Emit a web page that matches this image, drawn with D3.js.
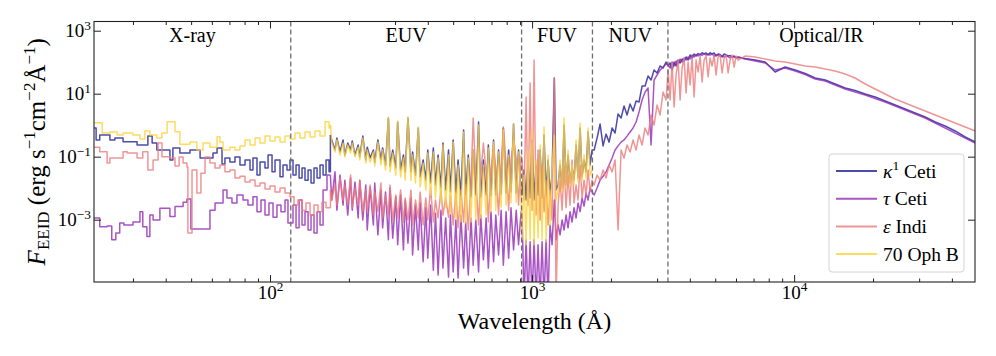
<!DOCTYPE html>
<html><head><meta charset="utf-8">
<script src="https://cdn.jsdelivr.net/npm/d3@7"></script>
<style>
body{margin:0;background:#fff}
svg{display:block}
svg text, svg tspan{font-family:"Liberation Serif","DejaVu Serif",serif !important}
</style></head>
<body><svg id="chart" width="996" height="356"></svg>
<script>
// ---------------- data (wavelength in Å, flux in erg s^-1 cm^-2 Å^-1) ----------------
const regionEdges = [21.3, 120, 912, 1700, 3300, 49000];
const regionLabels = ["X-ray", "EUV", "FUV", "NUV", "Optical/IR"];
const xTickValues = [1e2, 1e3, 1e4];
const xTickExponents = ["2", "3", "4"];
const yTickValues = [1e-3, 1e-1, 1e1, 1e3];
const yTickExponents = ["\u22123", "\u22121", "1", "3"];
const starNames = ["κ1 Ceti", "τ Ceti", "ε Indi", "70 Oph B"];
const starColors = ["#1f1f96", "#9328b5", "#ec7a7a", "#fdd23a"];

// X-ray histograms (bin start wavelengths, bin fluxes)
const kappaXrayWave = [21.3,21.7,22.4,24.5,25.6,27.5,31.1,34.2,35.5,37.0,41.5,42.6,45.3,49.5,54.1,60.6,62.8,65.6,67.3,70.3,73.5,76.8,80.3,83.9,86.1,89.2,91.6,95.7,98.3,101.8,104.5,109.2,112.1,116.1,119.2,122.4,125.7,129.1,132.5,136.0,139.7,143.4,147.2,151.2,155.2,159.4,163.6,168];
const kappaXrayFlux = [0.815,0.34,0.49,0.34,0.39,0.30,0.235,0.45,0.27,0.163,0.079,0.19,0.131,0.163,0.091,0.131,0.19,0.059,0.091,0.068,0.098,0.0545,0.079,0.038,0.091,0.026,0.068,0.044,0.113,0.033,0.079,0.023,0.0545,0.038,0.079,0.026,0.0545,0.021,0.044,0.018,0.038,0.0146,0.044,0.021,0.0545,0.026,0.079,0.033];
const tauXrayWave = [21.3,22.4,23.9,24.9,25.8,26.7,27.7,30.0,31.9,32.7,33.9,34.8,35.8,38.0,41.5,43.4,46.6,48.2,49.9,59.0,61.7,66.2,68.5,71.6,74.8,78.9,82.4,86.1,89.2,92.4,95.7,99.1,102.7,106.3,110.1,114.1,117.1,122.4,125.7,129.1,132.5,136.0,139.7,143.4,147.2,151.2,155.2,159.4,165.0];
const tauXrayFlux = [0.00113,0.0006,0.00063,0.00023,0.00038,0.00079,0.00068,0.00084,0.0018,0.0006,0.00029,0.0014,0.00098,0.0023,0.00125,0.0026,0.0036,0.0045,0.00051,0.002,0.0034,0.0088,0.0049,0.0034,0.0061,0.0042,0.0029,0.0053,0.0018,0.0042,0.0014,0.0034,0.0012,0.0029,0.0018,0.0042,0.00079,0.0029,0.00055,0.0042,0.00068,0.0018,0.00047,0.0014,0.00038,0.0018,0.00068,0.0088,0.026];
const epsXrayWave = [21.3,22.4,23.9,24.5,27.5,28.5,31.1,32.7,34.2,35.8,37.4,38.7,41.5,43.4,45.0,46.6,48.2,48.6,50.4,52.6,54.5,56.5,59.0,61.7,64.4,67.3,70.3,73.5,76.8,80.3,83.9,87.7,91.6,95.7,100,104.5,109.2,114.1,119.2,123.5,127.9,132.5,137.2,142.2,147.2,152.5,157.9,163.6];
const epsXrayFlux = [0.20,0.144,0.063,0.091,0.144,0.131,0.091,0.144,0.038,0.079,0.27,0.1,0.091,0.051,0.098,0.063,0.047,0.00038,0.038,0.007,0.03,0.098,0.063,0.044,0.0545,0.033,0.038,0.021,0.024,0.0157,0.0182,0.0117,0.0146,0.0094,0.0117,0.0076,0.0101,0.007,0.0053,0.0029,0.0042,0.002,0.0034,0.0014,0.0029,0.0018,0.0036,0.0024];
const ophXrayWave = [21.3,22.9,24.5,26.1,27.5,30.0,31.9,33.3,34.8,37.0,38.7,40.5,43.4,45.3,49.5,52.6,55.5,59.0,62.8,64.4,66.2,70.3,73.5,76.8,80.3,83.9,87.7,91.6,95.7,100,104.5,109.2,114.1,119.2,124.6,130.2,136.0,142.2,148.5,155.2,162.2,168];
const ophXrayFlux = [1.2,0.565,0.61,0.49,0.57,0.49,0.365,0.65,0.49,0.39,0.565,1.29,0.62,0.25,0.29,0.163,0.27,0.20,0.43,0.29,0.163,0.20,0.163,0.22,0.34,0.235,0.39,0.27,0.45,0.315,0.42,0.29,0.45,0.365,0.565,0.39,0.61,0.42,0.65,0.45,1.29,0.815];

// EUV model spectra (shared wavelength grid)
const euvWave = [170,172,177,180,185,190,193,198,203,206,211,217,220,226,232,235,241,248,251,258,265,269,276,283,287,294,302,307,315,323,328,336,345,350,359,368,374,384,393,400,410,420,428,438,449,457,468,480,488,500,512,522,535,548,558,571,585,596,610,625,637,652,668,681,697,713,727,745,762,777,796,814,831,850,870,888,908];
const kappaEuvFlux = [0.49,0.34,0.163,0.39,0.141,0.34,0.113,0.27,0.163,0.315,0.113,0.235,0.098,0.45,0.079,0.20,0.091,0.163,0.068,0.34,0.079,0.19,0.0545,1.69,0.051,0.163,0.044,1.26,0.038,0.113,0.033,1.69,0.033,0.141,0.026,0.815,0.0227,0.079,0.018,0.163,0.0146,0.19,0.0126,0.113,0.0101,0.27,0.0088,0.163,0.0076,0.34,0.007,0.079,0.0061,0.70,0.0061,0.113,0.0053,0.163,0.0061,1.26,0.0053,0.079,0.0061,0.235,0.0057,0.34,0.0061,0.163,0.0065,0.815,0.007,0.163,0.0076,1.09,0.007,0.163,0.0061];
const tauEuvFlux = [0.026,0.0042,0.033,0.002,0.026,0.0029,0.018,0.0014,0.021,0.002,0.0157,0.00113,0.018,0.00098,0.0126,0.00047,0.0109,0.00068,0.0146,0.00033,0.0088,0.00055,0.0076,0.00023,0.0101,0.00026,0.0053,0.00016,0.0061,0.00011,0.0042,0.00018,0.0049,0.000076,0.0029,0.00011,0.0034,0.000046,0.0024,0.00006,0.0029,0.000025,0.0016,0.0000175,0.002,0.000029,0.00113,0.000015,0.0014,0.000022,0.00098,0.000014,0.0014,0.000029,0.00084,0.0000175,0.00113,0.000036,0.00098,0.000022,0.0014,0.000053,0.00113,0.000029,0.0018,0.000046,0.0014,0.000076,0.002,0.000036,0.0018,0.00006,0.0024,0.00011,0.002,0.00016,0.0018];
const epsEuvFlux = [0.0088,0.0042,0.0126,0.0029,0.021,0.0042,0.0126,0.0029,0.026,0.0024,0.0101,0.0029,0.018,0.0018,0.0088,0.002,0.0126,0.0014,0.0076,0.0018,0.0146,0.00113,0.0061,0.0014,0.0126,0.00098,0.0061,0.00113,0.0088,0.00084,0.0049,0.00098,0.0088,0.00068,0.0042,0.00113,0.0076,0.00068,0.0049,0.00098,0.0101,0.00084,0.0042,0.00113,0.0088,0.0014,0.0049,0.0012,0.0061,0.00068,0.0076,0.00055,0.0088,0.00084,0.0126,0.00047,0.018,1.69,0.021,0.00068,0.026,0.27,0.033,0.00084,0.038,0.235,0.044,0.0014,0.0545,0.88,0.063,0.002,0.079,0.34,0.091,0.0029,0.105];
const ophEuvFlux = [1.01,0.29,0.141,0.34,0.113,0.27,0.098,0.235,0.131,0.27,0.098,0.20,0.079,0.39,0.063,0.163,0.068,0.141,0.051,0.29,0.0545,0.163,0.038,1.82,0.033,0.131,0.026,1.36,0.0227,0.091,0.018,1.82,0.018,0.113,0.0146,0.88,0.0109,0.063,0.0088,0.131,0.0061,0.141,0.0049,0.091,0.0034,0.235,0.0024,0.113,0.0016,0.29,0.00113,0.0545,0.00084,0.61,0.00079,0.091,0.00084,0.163,0.00098,1.01,0.00113,0.0545,0.0014,0.19,0.0018,0.29,0.002,0.141,0.0025,0.70,0.0029,0.113,0.0034,1.09,0.0036,0.141,0.0042];

// FUV spectra (shared wavelength grid)
const fuvWave = [916,932,949,965,983,1000,1018,1036,1054,1073,1092,1111,1131,1151,1171,1192,1216,1235,1257,1279,1302,1325,1348,1372,1396,1421,1446,1472,1498,1525,1552,1579,1607,1636,1665,1694];
const kappaFuvFlux = [0.0061,0.038,0.0042,0.079,0.0049,0.34,0.0042,0.0545,0.0061,0.163,0.0049,0.49,0.0057,0.079,0.0065,0.026,31.5,0.0088,0.0126,0.0545,0.0101,1.01,0.0126,0.113,0.0146,0.044,0.018,0.235,0.021,0.815,0.024,0.079,0.033,0.61,0.0545,0.163];
const tauFuvFlux = [0.0014,2.8e-6,0.00023,2.8e-6,0.0002,2.8e-6,0.00023,2.8e-6,0.00016,2.8e-6,0.0002,2.8e-6,0.00023,2.8e-6,0.00068,0.00016,0.0042,0.00023,0.00068,0.00033,0.00098,0.00047,0.0014,0.00055,0.0018,0.00084,0.0024,0.00113,0.0034,0.0018,0.0049,0.0027,0.007,0.0042,0.0101,0.0076];
const epsFuvFlux = [0.079,0.0042,7.86,0.0029,21.9,0.002,117,0.0014,0.163,0.00098,0.0545,0.0018,0.018,0.00068,0.0088,0.00098,31.5,2.8e-6,0.0029,0.018,0.002,0.0545,0.0024,0.026,0.0029,0.079,0.0034,0.0126,0.0042,0.0545,0.0049,0.018,0.0061,0.038,0.0076,0.018];
const ophFuvFlux = [0.00023,0.026,0.00016,0.163,0.00023,0.70,0.00016,0.079,0.00026,0.235,0.00023,0.88,0.0002,0.113,0.00068,0.038,0.49,0.0042,0.0088,0.079,0.0076,1.69,0.0101,0.163,0.0117,0.0545,0.0126,0.34,0.0157,1.17,0.018,0.113,0.021,0.815,0.026,0.038];

// NUV + optical/IR spectra (shared wavelength grid; 70 Oph B has none)
const redWave = [1725,1770,1818,1866,1916,1968,2020,2074,2129,2186,2244,2304,2366,2429,2494,2560,2629,2699,2771,2845,2921,2999,3079,3162,3246,
  3304,3363,3423,3483,3545,3608,3672,3736,3803,3870,3939,4009,4080,4152,4227,4301,4378,4455,4535,4614,4697,4779,4864,4950,5038,5127,5219,5311,5406,5501,5599,5697,5799,5902,6007,6113,
  6501,7099,7752,8465,9242,10090,11020,12030,13140,14340,15660,17090,18670,20380,22250,24300,26530,28960,31620,34530,37700,41160,44950,49080];
const kappaRedFlux = [0.163,0.39,1.09,0.22,0.52,0.29,0.815,0.565,2.27,1.69,4.07,2.1,4.71,2.83,5.87,5.45,17.5,17.5,36.5,27.2,56.5,45.4,75.8,65.4,101,
  75.8,94.4,56.5,101,75.8,117,94.4,126,109,146,117,169,136,182,157,189,169,200,182,196,169,200,182,196,157,182,176,146,182,169,157,163,146,157,141,146,
  131,117,101,48.8,70.4,56.5,43.8,31.5,27.2,20.3,15.2,12.6,9.8,7.86,5.87,4.38,3.27,2.44,1.82,1.26,0.944,0.655,0.422,0.293];
const tauRedFlux = [0.0061,0.0101,0.018,0.024,0.033,0.0545,0.091,0.163,0.22,0.29,0.34,0.45,0.61,0.815,1.26,2.62,6.3,11.3,15.2,0.235,27.2,39.2,56.5,70.4,87.7,
  81.5,65.4,101,75.8,109,87.7,126,101,136,117,146,126,169,146,176,157,182,163,189,169,182,169,182,157,169,169,157,163,146,157,151,136,151,146,136,141,
  126,109,94.4,56.5,65.4,52.6,40.7,29.3,25.3,18.9,14.1,11.3,9.1,7.04,5.45,4.07,3.04,2.27,1.69,1.17,0.815,0.565,0.39,0.27];
const epsRedFlux = [0.0126,0.026,0.018,0.038,0.021,0.0545,0.033,0.079,0.00047,0.163,0.091,0.235,0.141,0.34,0.163,0.49,0.235,0.815,0.49,2.1,1.01,4.38,2.1,11.3,6.3,
  56.5,6.3,101,3.78,39.2,117,6.3,65.4,136,10.5,101,18.9,146,7.86,117,48.8,157,23.5,117,157,33.9,136,75.8,169,39.2,146,169,45.4,136,169,45.4,117,169,70.4,157,117,
  157,146,126,109,101,87.7,75.8,70.4,60.8,52.6,42.2,31.5,20.3,14.1,9.8,6.8,5.07,3.78,2.82,2.1,1.57,1.17,0.877,0.655];

// ---------------- chart ----------------
const FONT = "'Liberation Serif','DejaVu Serif',serif";
const stars = [
  {xw: kappaXrayWave, xf: kappaXrayFlux, euv: kappaEuvFlux, fuv: kappaFuvFlux, red: kappaRedFlux},
  {xw: tauXrayWave, xf: tauXrayFlux, euv: tauEuvFlux, fuv: tauFuvFlux, red: tauRedFlux},
  {xw: epsXrayWave, xf: epsXrayFlux, euv: epsEuvFlux, fuv: epsFuvFlux, red: epsRedFlux},
  {xw: ophXrayWave, xf: ophXrayFlux, euv: ophEuvFlux, fuv: ophFuvFlux, red: null}
].map((s, i) => Object.assign(s, {name: starNames[i], color: starColors[i]}));

const L = 94, R = 975, T = 21.5, B = 282;
const svg = d3.select("#chart");
const x = d3.scaleLog().domain([regionEdges[0], regionEdges[regionEdges.length - 1]]).range([L, R]);
const y = d3.scaleLog().domain([1.05e-5, 1960]).range([B, T]);

svg.append("defs").append("clipPath").attr("id", "clip")
  .append("rect").attr("x", L).attr("y", T).attr("width", R - L).attr("height", B - T);
const plot = svg.append("g").attr("clip-path", "url(#clip)");

const stepLine = d3.line().x(d => x(d[0])).y(d => y(d[1])).curve(d3.curveStepAfter);
const specLine = d3.line().x(d => x(d[0])).y(d => y(d[1]));

stars.forEach(s => {
  const spec = euvWave.map((w, i) => [w, s.euv[i]]).concat(fuvWave.map((w, i) => [w, s.fuv[i]]));
  if (s.red) redWave.forEach((w, i) => spec.push([w, s.red[i]]));
  const xr = s.xw.map((w, i) => [w, s.xf[i]]);
  xr.push(spec[0]);
  const g = plot.append("g").attr("fill", "none").attr("stroke", s.color)
    .attr("stroke-opacity", 0.8).attr("stroke-width", 1.5).attr("stroke-linejoin", "round");
  g.append("path").attr("d", stepLine(xr));
  g.append("path").attr("d", specLine(spec));
});

// region dividers and labels
const inner = regionEdges.slice(1, -1);
svg.append("g").selectAll("line").data(inner).join("line")
  .attr("x1", d => x(d)).attr("x2", d => x(d)).attr("y1", T).attr("y2", B)
  .attr("stroke", "#6e6e6e").attr("stroke-width", 1.3).attr("stroke-dasharray", "5,3");
svg.append("g").selectAll("text").data(regionLabels).join("text")
  .attr("x", (d, i) => x(Math.sqrt(regionEdges[i] * regionEdges[i + 1])))
  .attr("y", 42).attr("text-anchor", "middle").attr("font-size", 20).attr("font-family", FONT).text(d => d);

// axes
function styleAxis(g) {
  g.select(".domain").remove();
  g.selectAll(".tick line").attr("stroke", "#222").attr("stroke-width", 1);
  g.attr("font-family", FONT).attr("font-size", 19);
}
function addPow(sel, exps) {
  sel.selectAll(".tick text").each(function(d, i) {
    const t = d3.select(this).text(null).attr("fill", "#000").attr("font-family", FONT);
    t.append("tspan").text("10");
    t.append("tspan").attr("font-size", "0.7em").attr("dy", "-0.55em").text(exps[i]);
  });
}
const xMinor = [];
for (let k = 1; k <= 4; k++) for (let m = 2; m <= 9; m++) {
  const v = m * Math.pow(10, k);
  if (v > x.domain()[0] && v < x.domain()[1]) xMinor.push(v);
}
const gxb = svg.append("g").attr("transform", `translate(0,${B})`)
  .call(d3.axisBottom(x).tickValues(xTickValues).tickSize(-7).tickPadding(3).tickFormat(() => ""))
  .call(styleAxis);
addPow(gxb, xTickExponents);
svg.append("g").attr("transform", `translate(0,${B})`)
  .call(d3.axisBottom(x).tickValues(xMinor).tickSize(-3.5).tickFormat(() => "")).call(styleAxis);
svg.append("g").attr("transform", `translate(0,${T})`)
  .call(d3.axisTop(x).tickValues(xTickValues).tickSize(-7).tickFormat(() => "")).call(styleAxis);
svg.append("g").attr("transform", `translate(0,${T})`)
  .call(d3.axisTop(x).tickValues(xMinor).tickSize(-3.5).tickFormat(() => "")).call(styleAxis);
const gyl = svg.append("g").attr("transform", `translate(${L},0)`)
  .call(d3.axisLeft(y).tickValues(yTickValues).tickSize(-7).tickPadding(3).tickFormat(() => ""))
  .call(styleAxis);
addPow(gyl, yTickExponents);
svg.append("g").attr("transform", `translate(${R},0)`)
  .call(d3.axisRight(y).tickValues(yTickValues).tickSize(-7).tickFormat(() => "")).call(styleAxis);

svg.append("rect").attr("x", L).attr("y", T).attr("width", R - L).attr("height", B - T)
  .attr("fill", "none").attr("stroke", "#222").attr("stroke-width", 1.1);

// axis labels
svg.append("text").attr("x", (L + R) / 2).attr("y", 329).attr("text-anchor", "middle")
  .attr("font-size", 24).attr("font-family", FONT).text("Wavelength (Å)");
const yl = svg.append("text").attr("transform", `translate(45,${(T + B) / 2}) rotate(-90)`)
  .attr("text-anchor", "middle").attr("font-size", 25).attr("font-family", FONT);
yl.append("tspan").attr("font-style", "italic").text("F");
yl.append("tspan").attr("font-size", 17).attr("dy", 4).text("EEID");
yl.append("tspan").attr("dy", -4).text(" (erg s");
yl.append("tspan").attr("font-size", 17).attr("dy", -10).text("\u22121");
yl.append("tspan").attr("dy", 10).text("cm");
yl.append("tspan").attr("font-size", 17).attr("dy", -10).text("\u22122");
yl.append("tspan").attr("dy", 10).text("Å");
yl.append("tspan").attr("font-size", 17).attr("dy", -10).text("\u22121");
yl.append("tspan").attr("dy", 10).text(")");

// legend
const lg = svg.append("g").attr("font-family", FONT);
lg.append("rect").attr("x", 829).attr("y", 154).attr("width", 135).attr("height", 118).attr("rx", 3)
  .attr("fill", "#fff").attr("fill-opacity", 0.8).attr("stroke", "#d4d4d4");
stars.forEach((s, i) => {
  const yy = 171 + i * 27.7;
  lg.append("line").attr("x1", 836).attr("x2", 877).attr("y1", yy).attr("y2", yy)
    .attr("stroke", s.color).attr("stroke-opacity", 0.8).attr("stroke-width", 2);
  const t = lg.append("text").attr("x", 883).attr("y", yy + 6.5).attr("font-size", 19.5);
  const parts = s.name.split(" ");
  const sym = parts[0];
  if (sym === "70") {
    t.text(s.name);
  } else {
    t.append("tspan").attr("font-style", "italic").text(sym[0]);
    if (sym.length > 1) t.append("tspan").attr("font-size", 13.5).attr("dy", -8).text(sym.slice(1));
    t.append("tspan").attr("dy", sym.length > 1 ? 8 : 0).text(" " + parts.slice(1).join(" "));
  }
});
</script></body></html>
